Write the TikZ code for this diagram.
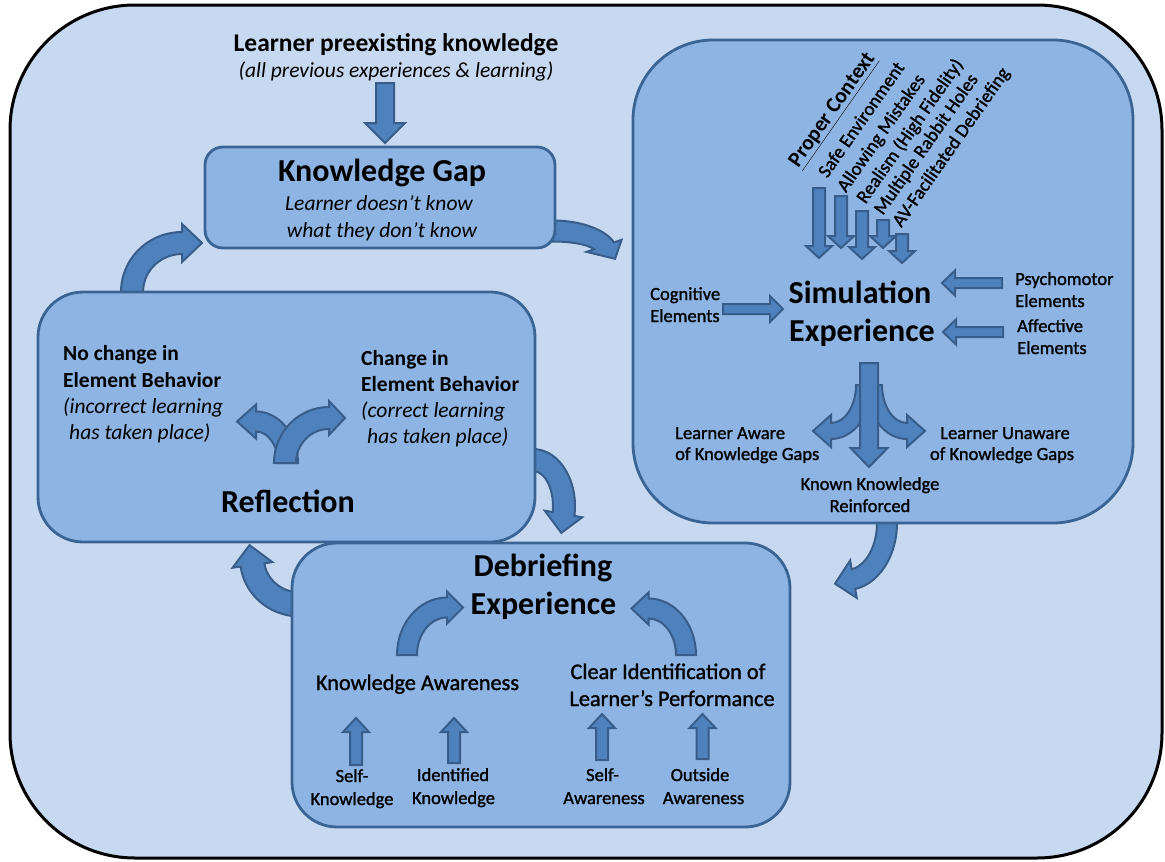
\documentclass[tikz,border=0pt]{standalone}
\usepackage{fontspec}
\setmainfont{Carlito}
\newfontfamily\lblfont[FakeBold=1.2]{Carlito}
\usetikzlibrary{calc}
\definecolor{bgc}{HTML}{C6D9F1}
\definecolor{boxc}{HTML}{8EB4E3}
\definecolor{boxl}{HTML}{3A6494}
\definecolor{arrc}{HTML}{4F81BD}
\definecolor{arrl}{HTML}{385D8A}
\tikzset{
  barrow/.style={fill=arrc,draw=arrl,line width=2pt,line join=miter},
  boxnode/.style={draw=boxl,fill=boxc,line width=2.8pt,inner sep=0pt,outer sep=0pt},
  ttl/.style={font=\bfseries\fontsize{32}{38}\selectfont,anchor=base,inner sep=0pt},
  hdr/.style={font=\bfseries\fontsize{25.5}{30}\selectfont,anchor=base,inner sep=0pt},
  itl/.style={font=\itshape\fontsize{21.5}{26}\selectfont,anchor=base,inner sep=0pt},
  elb/.style={font=\bfseries\fontsize{21.5}{26}\selectfont,anchor=base west,inner sep=0pt},
  eli/.style={font=\itshape\fontsize{21.5}{26}\selectfont,anchor=base west,inner sep=0pt},
  med/.style={font=\lblfont\fontsize{22.3}{26}\selectfont,anchor=base,inner sep=0pt},
  sml/.style={font=\lblfont\fontsize{18.5}{22}\selectfont,anchor=base,inner sep=0pt},
  smlw/.style={font=\lblfont\fontsize{18.5}{22}\selectfont,anchor=base west,inner sep=0pt},
  ctxb/.style={font=\bfseries\fontsize{21.5}{26}\selectfont,anchor=base west,inner sep=0pt,rotate=55},
  ctx/.style={font=\lblfont\fontsize{19}{23}\selectfont,anchor=base west,inner sep=0pt,rotate=55},
}
% straight block arrow: x1 y1 x2 y2 shaft head-width head-length
\newcommand\blkarrow[7]{%
  \pgfmathsetmacro\baang{atan2((#4)-(#2),(#3)-(#1))}%
  \pgfmathsetmacro\balen{veclen((#3)-(#1),(#4)-(#2))}%
  \pgfmathsetmacro\bab{\balen-#7}%
  \pgfmathsetmacro\baw{#5/2}\pgfmathsetmacro\bah{#6/2}%
  \draw[barrow,shift={(#1,#2)},rotate=\baang] (0,-\baw) -- (\bab,-\baw) -- (\bab,-\bah) -- (\balen,0) -- (\bab,\bah) -- (\bab,\baw) -- (0,\baw) -- cycle;
}
% curved block arrow: cx cy rx ry t1 t2 shaft head-width head-length
\newcommand\carw[9]{%
  \pgfmathsetmacro\cws{sign((#6)-(#5))}%
  \pgfmathsetmacro\cwrxo{#3+#7/2}\pgfmathsetmacro\cwryo{#4+#7/2}%
  \pgfmathsetmacro\cwrxi{#3-#7/2}\pgfmathsetmacro\cwryi{#4-#7/2}%
  \pgfmathsetmacro\cwsx{#1+\cwrxo*cos(#5)}\pgfmathsetmacro\cwsy{#2+\cwryo*sin(#5)}%
  \pgfmathsetmacro\cwpx{#1+#3*cos(#6)}\pgfmathsetmacro\cwpy{#2+#4*sin(#6)}%
  \pgfmathsetmacro\cwtx{0-(\cws)*#3*sin(#6)}\pgfmathsetmacro\cwty{(\cws)*#4*cos(#6)}%
  \pgfmathsetmacro\cwtl{veclen(\cwtx,\cwty)}%
  \pgfmathsetmacro\cwnx{cos(#6)}\pgfmathsetmacro\cwny{sin(#6)}%
  \pgfmathsetmacro\cwax{\cwpx+#8/2*(\cwnx)}\pgfmathsetmacro\cway{\cwpy+#8/2*(\cwny)}%
  \pgfmathsetmacro\cwbx{\cwpx+#9*(\cwtx)/\cwtl}\pgfmathsetmacro\cwby{\cwpy+#9*(\cwty)/\cwtl}%
  \pgfmathsetmacro\cwcx{\cwpx-#8/2*(\cwnx)}\pgfmathsetmacro\cwcy{\cwpy-#8/2*(\cwny)}%
  \pgfmathsetmacro\cwdx{\cwpx-#7/2*(\cwnx)}\pgfmathsetmacro\cwdy{\cwpy-#7/2*(\cwny)}%
  \draw[barrow] (\cwsx,\cwsy) arc[start angle=#5,end angle=#6,x radius=\cwrxo,y radius=\cwryo]
    -- (\cwax,\cway) -- (\cwbx,\cwby) -- (\cwcx,\cwcy) -- (\cwdx,\cwdy)
    arc[start angle=#6,end angle=#5,x radius=\cwrxi,y radius=\cwryi] -- cycle;
}
\begin{document}
\begin{tikzpicture}[x=1pt,y=1pt]
\path[use as bounding box,fill=white] (0,0) rectangle (1165,-862);
\node[draw=black,fill=bgc,line width=3pt,rounded corners=125pt,minimum width=1152pt,minimum height=853pt,inner sep=0pt] (frame) at (586,-431.5) {};

% cycle connectors (behind boxes)
\carw{182}{-292}{50}{49}{185}{90}{22}{38}{20}
\carw{553}{-253}{54}{22}{100}{19}{21}{37}{17}
\carw{533}{-506}{31}{46}{100}{-10}{22}{38}{19}
\carw{846.4}{-523}{40.6}{57}{10}{-80}{20}{38}{19}
\carw{300}{-558.5}{48}{46}{-75}{-172}{24}{40}{20}

% boxes
\node[boxnode,rounded corners=18pt,minimum width=350pt,minimum height=101pt] (kg) at (380,-197.5) {};
\node[boxnode,rounded corners=45pt,minimum width=497pt,minimum height=250pt] (refl) at (286.5,-417) {};
\node[boxnode,rounded corners=80pt,minimum width=500pt,minimum height=483pt] (sim) at (883,-281.5) {};
\node[boxnode,rounded corners=45pt,minimum width=498pt,minimum height=284pt] (deb) at (541,-685) {};

% top input
\node[hdr] (pre1) at (396,-51) {Learner preexisting knowledge};
\node[itl] (pre2) at (396,-77) {(all previous experiences \& learning)};
\blkarrow{385}{-83}{385}{-143}{18}{40}{20}

% knowledge gap
\node[ttl] (kgt) at (382,-181) {Knowledge Gap};
\node[itl] (kg1) at (379,-210) {Learner doesn’t know};
\node[itl] (kg2) at (382,-237) {what they don’t know};

% reflection
\carw{256}{-463}{32}{41.5}{0}{90}{20}{34}{19}
\carw{329}{-463}{44}{45}{180}{90}{22}{34}{16}
\node[elb] (nc1) at (63,-360) {No change in};
\node[elb] (nc2) at (63,-387) {Element Behavior};
\node[eli] (nc3) at (63,-413) {(incorrect learning};
\node[eli] (nc4) at (69,-439) {has taken place)};
\node[elb] (c1) at (361,-365) {Change in};
\node[elb] (c2) at (361,-391) {Element Behavior};
\node[eli] (c3) at (361,-417) {(correct learning};
\node[eli] (c4) at (367,-443) {has taken place)};
\node[ttl] (reft) at (288,-512) {Reflection};

% simulation
\node[ctxb] (pc) at (798.2,-168.4) {\underline{Proper Context}};
\node[ctx] (pc1) at (827.2,-178.9) {Safe Environment};
\node[ctx] (pc2) at (846,-193.4) {Allowing Mistakes};
\node[ctx] (pc3) at (865.5,-204.7) {Realism (High Fidelity)};
\node[ctx] (pc4) at (882.9,-216) {Multiple Rabbit Holes};
\node[ctx] (pc5) at (901.3,-228.3) {AV-Facilitated Debriefing};
\blkarrow{819}{-188}{819}{-258}{12}{26}{12}
\blkarrow{841}{-196}{841}{-248}{12}{26}{12}
\blkarrow{862}{-211}{862}{-259}{12}{26}{12}
\blkarrow{883}{-220}{883}{-248}{12}{26}{12}
\blkarrow{902}{-234}{902}{-263}{12}{26}{12}
\node[ttl] (simt1) at (860,-303) {Simulation};
\node[ttl] (simt2) at (862,-341) {Experience};
\node[smlw] (cog1) at (650,-300) {Cognitive};
\node[smlw] (cog2) at (650,-322) {Elements};
\blkarrow{723}{-309}{783}{-309}{10}{26}{13}
\node[smlw] (psy1) at (1015,-285) {Psychomotor};
\node[smlw] (psy2) at (1015,-307) {Elements};
\blkarrow{1002}{-283}{942}{-283}{10}{25}{13}
\node[smlw] (aff1) at (1017,-332) {Affective};
\node[smlw] (aff2) at (1017,-354) {Elements};
\blkarrow{1003}{-332}{943}{-332}{10}{25}{13}
\carw{831}{-385}{33}{46}{0}{-90}{16}{32}{18}
\carw{907}{-385}{33}{46}{180}{270}{16}{32}{18}
\blkarrow{869}{-363}{869}{-467}{18}{37}{19}
\node[smlw] (la1) at (675,-439) {Learner Aware};
\node[smlw] (la2) at (675,-460) {of Knowledge Gaps};
\node[sml] (lu1) at (1005,-439) {Learner Unaware};
\node[sml] (lu2) at (1002,-460) {of Knowledge Gaps};
\node[sml] (kk1) at (870,-490) {Known Knowledge};
\node[sml] (kk2) at (870,-512) {Reinforced};

% debriefing
\node[ttl] (debt1) at (543,-576) {Debriefing};
\node[ttl] (debt2) at (543.5,-614) {Experience};
\carw{447}{-655}{40}{47.5}{180}{90}{20}{32}{16}
\carw{648.5}{-655}{37.5}{46.5}{0}{90}{20}{32}{17}
\node[med] (ka) at (417.5,-690) {Knowledge Awareness};
\node[med] (ci1) at (668,-679) {Clear Identification of};
\node[med] (ci2) at (672,-706) {Learner’s Performance};
\blkarrow{356}{-765}{356}{-718}{12}{26}{14}
\blkarrow{454}{-763}{454}{-718}{12}{26}{14}
\blkarrow{602}{-760}{602}{-714}{12}{26}{14}
\blkarrow{702.5}{-759}{702.5}{-714}{12}{26}{14}
\node[sml] (sk1) at (352,-782) {Self-};
\node[sml] (sk2) at (352,-805) {Knowledge};
\node[sml] (ik1) at (453,-781) {Identified};
\node[sml] (ik2) at (453.5,-804) {Knowledge};
\node[sml] (sa1) at (602.5,-781) {Self-};
\node[sml] (sa2) at (604,-804) {Awareness};
\node[sml] (oa1) at (700,-781) {Outside};
\node[sml] (oa2) at (703.5,-804) {Awareness};
\end{tikzpicture}
\end{document}
